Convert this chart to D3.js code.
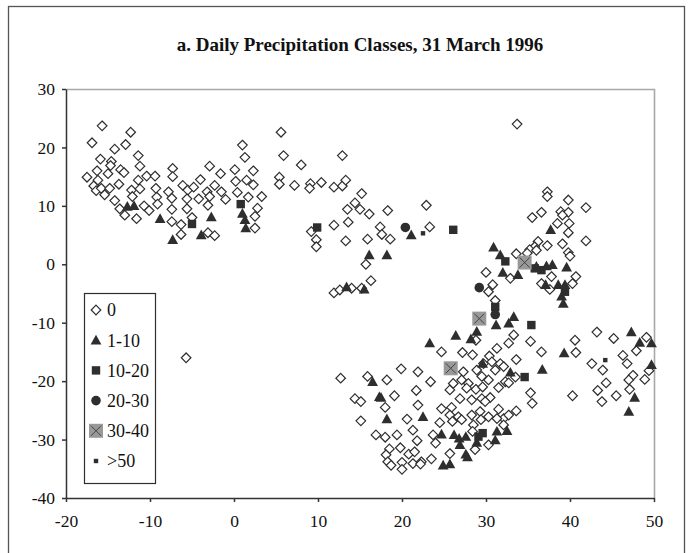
<!DOCTYPE html>
<html>
<head>
<meta charset="utf-8">
<script src="https://cdn.jsdelivr.net/npm/d3@7"></script>
<style>
  body { margin: 0; background: #fff; }
  svg { display: block; }
  svg text { font-family: "Liberation Serif", "Times New Roman", Times, "DejaVu Serif", serif; fill: #111; }
  .axis text { font-size: 17.5px; }
  .axis path, .axis line { stroke: #333; }
</style>
</head>
<body>
<svg width="696" height="553"></svg>
<script>
"use strict";

// precipitation class "0"
var zeroPts = [
  [-15.7,23.7],[-12.3,22.6],[-16.9,20.8],[-14.2,19.7],[-12.9,20.5],[-11.4,18.6],[-15.9,18.0],[-14.6,17.6],
  [-14.7,16.9],[-17.5,14.9],[-16.3,16.0],[-15.0,15.5],[-13.5,16.2],[-13.1,15.7],[-11.2,16.8],[-16.2,14.4],
  [-16.7,13.4],[-16.4,12.6],[-15.8,13.0],[-15.4,11.9],[-14.8,13.0],[-13.7,13.7],[-11.4,14.4],[-10.4,15.1],
  [-9.4,15.1],[-12.2,12.7],[-11.2,12.9],[-14.2,10.9],[-13.6,9.5],[-13.0,8.4],[-11.6,7.8],[-12.1,11.6],
  [-10.7,10.0],[-10.1,9.2],[-9.2,11.5],[-9.3,13.0],[-9.1,10.3],[-7.8,12.4],[-7.4,11.3],[-7.3,16.4],
  [-7.3,15.0],[-7.4,9.4],[-7.4,7.3],[-6.1,13.5],[-5.5,12.7],[-4.8,13.2],[-4.0,14.5],[-2.9,16.8],
  [-1.6,15.5],[-5.6,11.2],[-4.2,11.2],[-3.2,12.4],[-2.9,11.6],[-2.3,13.5],[-1.5,12.4],[-1.0,11.1],
  [0.1,16.2],[0.2,14.2],[1.0,20.4],[1.3,18.3],[1.5,14.4],[2.3,16.0],[2.3,13.6],[0.4,12.3],[1.7,11.5],
  [3.3,11.6],[2.8,9.6],[2.5,8.2],[2.5,6.2],[-3.1,10.1],[-3.1,5.4],[-2.3,4.9],[-5.6,9.5],[-5.0,8.0],
  [-6.3,6.8],[-6.3,5.1],
  [5.6,22.6],[5.9,18.6],[8.0,17.0],[12.9,18.6],[5.4,14.9],[5.4,13.7],[7.2,13.5],[9.1,13.8],[9.0,13.0],
  [10.4,14.0],[11.9,13.2],[12.9,13.4],[13.3,14.4],[15.2,12.1],[14.4,10.5],[13.5,9.4],[15.0,9.4],
  [16.1,8.6],[18.3,9.2],[22.9,10.1],[23.3,6.4],[11.9,6.7],[13.6,7.2],[9.2,5.6],[9.8,4.2],[9.8,3.0],
  [13.3,4.0],[15.9,4.3],[17.4,6.4],[17.6,5.1],[18.6,4.3],[15.7,0.0],[16.3,-2.8],[11.9,-4.9],[12.6,-4.4],
  [14.0,-4.1],[15.2,-4.1],[33.7,24.0],[-5.7,-16.0],
  [37.3,12.4],[37.3,11.6],[39.8,11.0],[41.9,9.7],[36.6,8.9],[35.5,8.0],[38.9,9.0],[39.8,8.9],[39.1,8.4],
  [38.5,7.0],[39.9,7.0],[39.8,5.4],[41.9,4.0],[39.1,3.5],[37.3,3.2],[39.8,2.0],[40.0,1.4],[36.2,3.9],
  [35.8,3.0],[35.2,2.5],[34.9,1.9],[36.0,2.4],[33.6,1.8],[30.0,-1.4],[32.9,-2.4],[30.8,-3.5],[30.3,-4.7],
  [37.8,-2.1],[40.7,-2.1],[40.3,-3.3],[36.6,-3.3],[37.6,-4.3],[31.1,-6.2],
  [12.7,-19.5],[15.9,-19.2],[18.2,-19.8],[19.9,-17.9],[21.9,-18.4],[23.4,-20.1],[24.7,-15.0],[27.2,-15.1],
  [28.8,-13.0],[28.4,-15.5],[30.4,-15.7],[31.3,-14.4],[32.7,-13.5],[33.3,-12.1],[35.3,-13.2],[33.6,-16.3],
  [36.6,-15.0],[40.6,-13.0],[40.7,-15.1],[43.2,-11.6],[45.2,-12.7],[42.6,-17.0],[43.9,-18.1],[46.3,-15.6],
  [46.8,-17.0],[47.9,-14.8],[49.1,-12.5],[47.5,-19.0],[47.0,-19.8],[48.9,-19.7],[49.4,-18.2],[44.3,-20.3],
  [43.3,-21.6],[45.5,-22.5],[43.8,-23.5],[47.1,-21.4],[40.3,-22.5],[35.3,-22.0],[35.5,-23.8],[32.3,-20.1],
  [25.7,-21.5],[26.1,-20.4],[27.3,-18.4],[27.1,-19.8],[27.9,-20.4],[28.8,-21.4],[28.9,-18.1],[29.7,-17.0],
  [29.5,-19.2],[30.3,-19.8],[30.7,-16.7],[31.1,-18.1],[31.7,-17.0],[31.5,-21.1],[32.1,-17.5],[32.7,-20.3],
  [33.5,-19.3],[29.6,-21.0],[27.7,-21.2],[26.9,-23.0],[28.3,-23.2],[29.5,-23.0],[30.5,-22.8],[29.9,-23.5],
  [24.7,-24.7],[25.9,-24.5],[25.7,-25.8],[26.7,-26.1],[24.5,-27.1],[26.0,-26.9],[27.1,-26.6],[28.3,-25.8],
  [29.3,-25.2],[30.3,-26.1],[31.5,-24.8],[32.1,-26.4],[32.7,-25.8],[33.6,-25.1],[28.5,-27.5],[29.4,-26.6],
  [31.3,-26.4],[32.1,-27.5],[23.7,-29.2],[24.0,-30.6],[25.7,-32.4],[28.7,-31.7],[28.4,-28.6],[30.3,-30.9],
  [14.4,-23.0],[15.1,-23.5],[19.1,-22.5],[21.7,-21.6],[18.0,-24.5],[21.9,-24.1],[15.1,-26.8],[20.6,-26.5],
  [21.3,-28.4],[16.9,-29.2],[18.0,-29.6],[19.4,-29.2],[21.8,-30.2],[19.8,-31.4],[18.5,-31.6],[20.8,-32.5],
  [18.1,-32.6],[18.3,-33.8],[18.7,-34.4],[20.0,-33.9],[20.0,-35.1],[21.3,-34.1],[21.5,-32.1],[22.3,-33.8],
  [22.2,-34.2],[23.5,-33.3]
];

// class "1-10"
var pts1to10 = [
  [-12.7,9.9],[-11.9,10.0],[-8.8,7.8],[-7.3,4.2],[-3.9,5.0],[-2.7,8.1],[1.0,8.7],[1.3,7.6],[1.4,6.2],
  [21.1,5.0],[16.1,1.6],[18.2,1.6],[13.4,-3.9],[15.5,-4.3],
  [37.7,5.9],[30.9,2.9],[31.7,1.6],[32.0,-1.4],[33.8,-1.8],[36.0,-0.4],[37.2,-0.3],[37.9,-0.1],[39.6,-0.5],
  [38.6,-3.5],[39.4,-3.5],[39.0,-5.5],[39.2,-6.7],[37.1,-3.5],[33.3,-9.0],
  [32.7,-10.1],[31.2,-10.4],[28.9,-11.5],[28.2,-12.8],[26.4,-12.2],[23.3,-13.5],[29.6,-17.0],[32.9,-18.5],
  [36.7,-18.0],[39.3,-15.2],[16.5,-20.1],[17.3,-22.7],[17.5,-22.8],[18.2,-26.5],[22.5,-26.1],[24.7,-29.1],
  [26.2,-29.2],[26.8,-29.8],[27.6,-29.5],[26.9,-30.9],[27.6,-32.5],[27.8,-33.0],[24.9,-34.4],[25.7,-34.2],
  [28.9,-30.5],[31.1,-30.1],[31.3,-28.6],[32.5,-28.5],[47.3,-11.6],[48.3,-13.4],[49.7,-13.5],[49.7,-17.2],
  [47.7,-22.8],[47.0,-25.2]
];

// class "10-20"
var pts10to20 = [
  [0.8,10.3],[-5.0,6.9],[9.9,6.3],[26.1,5.9],[32.3,0.5],[35.8,-0.7],[36.6,-1.0],[39.4,-4.7],[31.1,-7.3],
  [35.4,-10.4],[34.6,-19.3],[29.6,-28.9],[29.1,-29.5]
];

// class "20-30"
var pts20to30 = [[20.4,6.3],[29.2,-4.0],[31.1,-8.6]];

// class "30-40"
var pts30to40 = [[34.6,0.3],[29.2,-9.3],[25.8,-17.8]];

// class ">50"
var ptsOver50 = [[22.5,5.3],[44.2,-16.4]];

var classLabels = ["0", "1-10", "10-20", "20-30", "30-40", ">50"];
var xTicks = [-20, -10, 0, 10, 20, 30, 40, 50];
var yTicks = [-40, -30, -20, -10, 0, 10, 20, 30];
var title = "a. Daily Precipitation Classes, 31 March 1996";

window.onload = renderMyChart;

function renderMyChart() {
  var svg = d3.select("svg");
  var pLeft = 66, pRight = 654, pTop = 89, pBottom = 498;
  var dark = "#2e2e2e";
  var plain = function (d) { return String(d); }; // keep ASCII hyphen for negatives

  var x = d3.scaleLinear().domain([-20, 50]).range([pLeft, pRight]);
  var y = d3.scaleLinear().domain([-40, 30]).range([pBottom, pTop]);

  // outer frame
  svg.append("rect")
    .attr("x", 8.5).attr("y", 6.5)
    .attr("width", 676).attr("height", 560)
    .attr("fill", "none").attr("stroke", "#555").attr("stroke-width", 1.3);

  svg.append("text")
    .attr("x", (pLeft + pRight) / 2).attr("y", 51)
    .attr("text-anchor", "middle")
    .style("font-weight", "bold").style("font-size", "19px")
    .text(title);

  // top / right plot border
  svg.append("path")
    .attr("d", "M" + pLeft + "," + (pTop + 0.5) + "H" + (pRight + 0.5) + "V" + pBottom)
    .attr("fill", "none").attr("stroke", "#a8a8a8").attr("stroke-width", 1.6);

  svg.append("g")
    .attr("class", "axis")
    .attr("transform", "translate(" + pLeft + ",0)")
    .call(d3.axisLeft(y).tickValues(yTicks).tickFormat(plain).tickSize(4).tickSizeOuter(0).tickPadding(7))
    .call(function (g) {
      g.attr("font-family", null).attr("font-size", null);
      g.selectAll("path, line").attr("stroke-width", 1.5);
    });

  svg.append("g")
    .attr("class", "axis")
    .attr("transform", "translate(0," + pBottom + ")")
    .call(d3.axisBottom(x).tickValues(xTicks).tickFormat(plain).tickSize(4).tickSizeOuter(0).tickPadding(13))
    .call(function (g) {
      g.attr("font-family", null).attr("font-size", null);
      g.selectAll("path, line").attr("stroke-width", 1.5);
    });

  // marker painters
  function diamond(sel) {
    sel.append("path").attr("d", "M0,-4.8L4.8,0L0,4.8L-4.8,0Z")
      .attr("fill", "#fff").attr("stroke", dark).attr("stroke-width", 1.2);
  }
  function triangle(sel) {
    sel.append("path").attr("d", "M0,-5.5L5.4,4.2L-5.4,4.2Z").attr("fill", dark);
  }
  function square(sel) {
    sel.append("rect").attr("x", -4.2).attr("y", -4.2).attr("width", 8.4).attr("height", 8.4).attr("fill", dark);
  }
  function circle(sel) {
    sel.append("circle").attr("r", 4.8).attr("fill", dark);
  }
  function crossBox(sel) {
    sel.append("rect").attr("x", -7).attr("y", -7).attr("width", 14).attr("height", 14).attr("fill", "#999");
    sel.append("path").attr("d", "M-5,-5L5,5M5,-5L-5,5").attr("stroke", "#444").attr("stroke-width", 1);
  }
  function smallSquare(sel) {
    sel.append("rect").attr("x", -2.2).attr("y", -2.2).attr("width", 4.4).attr("height", 4.4).attr("fill", dark);
  }

  var series = [
    { pts: zeroPts, draw: diamond },
    { pts: pts1to10, draw: triangle },
    { pts: pts10to20, draw: square },
    { pts: pts20to30, draw: circle },
    { pts: pts30to40, draw: crossBox },
    { pts: ptsOver50, draw: smallSquare }
  ];

  series.forEach(function (s) {
    svg.append("g").selectAll("g")
      .data(s.pts)
      .enter().append("g")
      .attr("transform", function (d) { return "translate(" + x(d[0]) + "," + y(d[1]) + ")"; })
      .each(function () { s.draw(d3.select(this)); });
  });

  // legend
  var legend = svg.append("g");
  legend.append("rect")
    .attr("x", 84.5).attr("y", 293.5).attr("width", 71).attr("height", 190)
    .attr("fill", "#fff").attr("stroke", dark).attr("stroke-width", 1.2);

  series.forEach(function (s, i) {
    var row = legend.append("g").attr("transform", "translate(96," + (310 + i * 30.2) + ")");
    s.draw(row);
    row.append("text")
      .attr("x", 11).attr("dy", "0.35em")
      .style("font-size", "18px")
      .text(classLabels[i]);
  });
}
</script>
</body>
</html>
